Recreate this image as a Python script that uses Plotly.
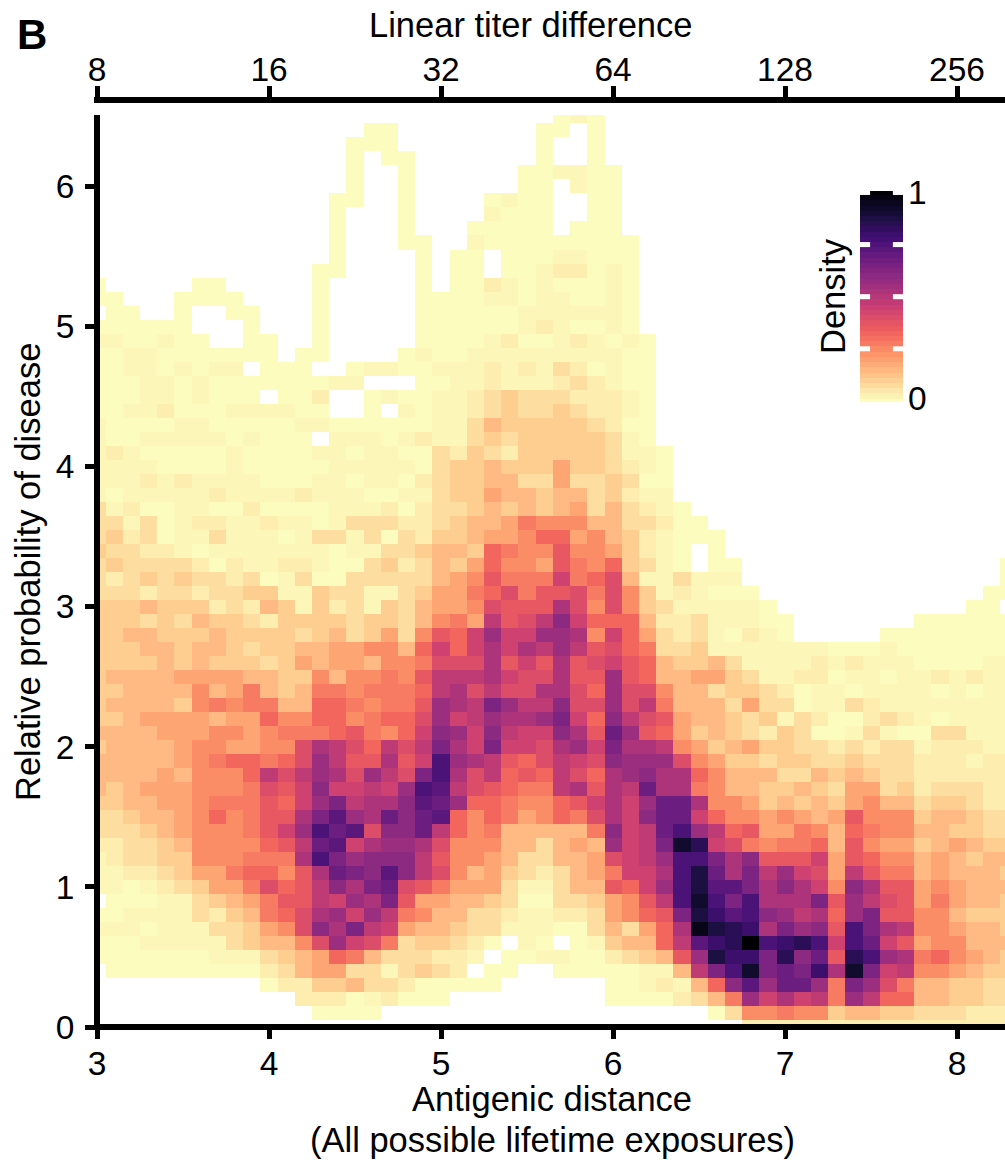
import plotly.graph_objects as go

# Density grid. Top row is y = 6.5, bottom row y = 0.0;
# columns run x = 3.0 ... 8.3 in steps of 0.1. "." is an empty cell.
density_rows = [
".......... .......... .......aAa",
".......... ......aa.. ......aa.a",
".......... .....aaa.. ......a..a",
".......... .....a.aa. ......a..a",
".......... .....a..a. .....aaAAa a",
".......... .....a..a. .....aa.Aa a",
".......... ....aa..a. ...aAaa..a a",
".......... ....a...a. ...Aaaa..a a",
".......... ....a...a. ..aaaaa.aa a",
".......... ....a...aa ..Aaaaaaaa aa",
".......... ....a....a .aa.aaaAAa aa",
".......... ...aa....a .aa.aaAbba Aa",
"a.....aa.. ...a.....a .aabAaAaaa Aa",
"aa...aaaa. ...a.....a aaaAAaAAaa Aa",
".aa..a..aa ...a.....a aaaaaAAAAA Aa",
"aaaaaa...a ...a.....a aaaaaAbAaa Aa",
"AAaaAaa..a a..a.....a aaaAbaaAbA aAa",
"aaAAaaaaaa a.aa....aA aaAAAAAAAA Aaa",
"aaAAaAaAA. aaa..aAAaa AAAbAbAcba Aaa",
"aaaAAaAaaa aaaaAA...a aAAbAAAbcb Aaa",
"aaaAAaAaaa .aab..aAaa AAbcdcccbb bAa",
"aaAAbaaaAA AAaa..a.Aa AAbcdccdcb bAa",
"AaaaaAAaaa aaAAaaaaaa AAcedddddc baa",
"AaaAAAAAaA aaa.AAAaAb AAcdcddddd cAa",
"AbAaaaaaAa aaaAAaAAaa cbdcbddddd cAAa",
"AAAAaaaaAa aaaaAAAAAa cddedddfdd cbAa",
"AAAbAbAAAA aaaAAaAAab cddeeccfcc dcaa",
"AaAAAAAbAA AAbAAAaaAA cddfeedeec dbAA",
"cAbaaAAaab aaaaAAAbab ccdededefc ecbAa",
"ccAcaAbbAA bAAaAcccbb cdeefhggge eccbaa",
"cdbcaAAcAA AaAccAcacb ddeffgiifg edbAaaa",
"dccbbAaAAA AAAAaAAccd eedihggjgg fdbAa.a",
"cdccccbabA AbbAaacdbc edfiggfjhg idcAa.aa.. .......... ...a",
"cbcdcdccbc aAcaaccccc efgjhhhlhi keAAcAAA.. .......... ...a",
"cccbccbccd dAAdccAAcd ffhikhjjkh kgdAbAaaa. .......... ..aa",
"dddedddbcb edAdbcAdce ffgkjjjnkg kgdcAAAAAa .......... .aa.",
"dddcdceddc bddddcddce ghfmjkmpli iiebbcAAAa a.......aa aaaa",
"ddeedddedd ddcdecdfcg jilolloong lifcbcAabA a.....aaaa aaaa",
"dddeedeedc ddeeffggei lilnlnmomj kihccdAAAA AAAaaaAaaa aaaa",
"ddddededdd cdfeffeggh kkknjljnjk ljieddecAA AAbAbAAAaa aaAA",
"deeeeffffe eddgegghgj mmmnlkknjj ojieeffdcA AbbaAAaAAb AbAA",
"ddeeeegefh edehhghhhi mnkmkknnki okkgeecddc baAAaAAAAa AaAA",
"deeeedghgh heeiihghhj onmqommpkk okmheeecfc caAAcbAAAA AAAA",
"ddeffffeff iggiighiik olmonnoqli pmkjfeedcd AcbaabcbAa AAAA",
"eeeefffggf ghhhijhgil polpmllpnj rojifdedcb dcaaAcAaac cAAA",
"deeeefggff ggknmkimkm qnlqllknol qnnmgfdefd dccbcbccAb bbAA",
"eeeeefghii hikomjjnjl tonmjikmlk poookgfddc ddccdcccbb bAbb",
"eeeefegggi mkmonkomkq tnkmijimki nopnnigeee ccededccbb bbbb",
"edefffgggh kjlpllmlot smkjihhmnj nmrnnhgeed dedcffcdbc ccbb",
"ddeeffghhh jiloqmnnps roiihggijl nlorrnggfd ededfgeecd dcbb",
"ccdeefgigh jjnqsonrpr sigihfgihk nlprrliggf gfefjgggde edcc",
"cccdefgggh jlotrskppr migheeeeeh plmrtomijf fhgeihggee ddcc",
"bbccdegggg ijmrslnoon kgggeecefe olmqxvlkhg hhiejgffde fedd",
"Abccddgggh hhntqopppm jggfecceef klmottqnpj jjlfjiggef edee",
"AAbbcdffhi igjnrqpspm kgefdcbcef hllntwrnqm olkfmjhhef eeed",
"AAaAbcdffh kijmpnqrkj hfffcAAcee jilotwssqn pnlgpnjjfg feee",
".aaaAAcdef hjjmlonqjf feedcaaccd fgjmtxtqtn nnqjomkjfh feed",
"aaAAAAcbde hiknolomhg eeccbAAbbc fgijqwustp omnioqjjgg eddd",
"AAAaAAAccd fgkpnqmlfe edccAAAaac ecfinywvun qopjtqnmgg feed",
"aaaAAAAAcd eegkolkhcd dcba.Aa.aA deeimsuvzt uvtltrljfg geee",
"aaaaaaaAAA cdefiheccc bbA.aaAAaa bcdejowuuq vprjvtonhi gfed",
".aaaaaaaaa bceffccAcd cb.aa..aaa aaAAemqtxq rqunxqlmgg fedd",
".......... abbddeccba aaaa...... aaAbAeipso rrohqokhee ddcc",
".......... ..bbbaAbaa a......... aaaabcehol nlmhomiiee ddcc",
".......... ...aaaa... .......... ......acgg hggdeeddcc cbbb",
".......... .......... .......... ........bb bbbbbbbbbb bbbb",
]

# Density each letter stands for.
level_letters = "abcdefghijklmnopqrstuvwxyz"
level_values = {ch: i / 25 for i, ch in enumerate(level_letters)}
level_values.update({"a": 0.003, "A": 0.015, "b": 0.035, "c": 0.07, "d": 0.105,
                     "e": 0.145, "f": 0.19, ".": None})

x_centres = [round(3.0 + 0.1 * i, 1) for i in range(54)]
y_centres = [round(0.1 * i, 1) for i in range(66)]

bottom_tick_vals = [3, 4, 5, 6, 7, 8]
bottom_tick_text = ["3", "4", "5", "6", "7", "8"]
top_tick_text = ["8", "16", "32", "64", "128", "256"]
left_tick_vals = [0, 1, 2, 3, 4, 5, 6]

legend_levels = [0, .025, .05, .075, .1, .125, .15, .175, .2, .225, .25, .275, .3, .325, .35, .375, .4,
                 .425, .45, .475, .5, .525, .55, .575, .6, .625, .65, .675, .7, .725, .75, .775, .8,
                 .825, .85, .875, .9, .925, .95, .975, 1]
legend_ticks = [0.25, 0.5, 0.75, 1]

magma_r = ["#fcfdbf", "#feca8d", "#fd9668", "#f1605d", "#cd4071",
           "#9e2f7f", "#721f81", "#440f76", "#180f3d", "#000004"]
scale = [[i / 9, c] for i, c in enumerate(magma_r)]

FONT = "Liberation Sans"
FS = 33.5
TS = 34.5
W, H = 1005, 1160
L, R, T, B = 97, 0, 100, 133
PW, PH = W - L - R, H - T - B


def px(v):
    return (v - L) / PW


def py(v):
    return (H - B - v) / PH


rows = []
for row in density_rows:
    s = row.replace(" ", "")
    assert len(s) <= 54, row
    s = s.ljust(54, ".")
    rows.append([level_values[ch] for ch in s])
z = rows[::-1]
assert len(z) == 66

fig = go.Figure()
fig.add_trace(go.Heatmap(x=x_centres, y=y_centres, z=z, zmin=0, zmax=1, colorscale=scale,
                         showscale=False, hoverongaps=False, zsmooth=False))
fig.add_trace(go.Scatter(x=bottom_tick_vals, y=[None] * 6, xaxis="x2", yaxis="y",
                         showlegend=False, hoverinfo="skip"))
fig.add_trace(go.Heatmap(x=[0.5], y=legend_levels, z=[[v] for v in legend_levels], zmin=0, zmax=1,
                         colorscale=scale, showscale=False, xaxis="x3", yaxis="y3", hoverinfo="skip"))

x_range = [3, 3 + PW / 172.0]
tickfont = dict(family=FONT, size=FS, color="black")
textfont = dict(family=FONT, size=TS, color="black")
shapes = [
    dict(type="line", xref="paper", yref="paper", x0=0, x1=0, y0=py(1030), y1=py(115),
         line=dict(color="black", width=6)),
    dict(type="line", xref="paper", yref="paper", x0=px(94), x1=1, y0=0, y1=0,
         line=dict(color="black", width=6)),
    dict(type="line", xref="paper", yref="paper", x0=px(94), x1=1, y0=1, y1=1,
         line=dict(color="black", width=6)),
]
for t in legend_ticks:
    for x0, x1 in ((0, 0.235), (0.765, 1)):
        shapes.append(dict(type="line", xref="x3", yref="y3", x0=x0, x1=x1, y0=t, y1=t,
                           line=dict(color="white", width=5)))

annotations = [
    dict(text="<b>B</b>", x=px(32), y=py(35), font=dict(family=FONT, size=42, color="black")),
    dict(text="Linear titer difference", x=px(530), y=py(25), font=textfont),
    dict(text="Antigenic distance", x=px(552), y=py(1099), font=textfont),
    dict(text="(All possible lifetime exposures)", x=px(552), y=py(1140), font=textfont),
    dict(text="Relative probability of disease", x=px(28), y=py(572), textangle=-90, font=textfont),
    dict(text="Density", x=px(833), y=py(296), textangle=-90, font=textfont),
]
for a in annotations:
    a.update(xref="paper", yref="paper", showarrow=False, xanchor="center", yanchor="middle")

fig.update_layout(
    width=W, height=H, margin=dict(l=L, r=R, t=T, b=B, pad=0, autoexpand=False),
    paper_bgcolor="white", plot_bgcolor="white", showlegend=False,
    font=dict(family=FONT, size=FS, color="black"),
    shapes=shapes, annotations=annotations,
    xaxis=dict(range=x_range, tickvals=bottom_tick_vals, ticktext=bottom_tick_text, ticks="outside",
               ticklen=11, tickwidth=5, tickcolor="black", showgrid=False, zeroline=False,
               showline=False, tickfont=tickfont, anchor="y", ticklabelstandoff=-4),
    xaxis2=dict(range=x_range, overlaying="x", side="top", anchor="free", position=1,
                tickvals=bottom_tick_vals, ticktext=top_tick_text, ticks="outside", ticklen=14,
                tickwidth=5, tickcolor="black", showgrid=False, zeroline=False, showline=False,
                tickfont=tickfont, ticklabelstandoff=-8),
    yaxis=dict(range=[0, 912 / 140.1], domain=[0, 912 / PH], tickvals=left_tick_vals, ticks="outside",
               ticklen=11, tickwidth=5, tickcolor="black", showgrid=False, zeroline=False,
               showline=False, tickfont=tickfont, anchor="x", ticklabelstandoff=4),
    xaxis3=dict(domain=[px(860), px(903)], range=[0, 1], visible=False, anchor="y3", fixedrange=True),
    yaxis3=dict(domain=[py(402), py(191)], range=[-0.005, 1.007], anchor="x3", side="right",
                tickvals=[0.015, 1], ticktext=["0", "1"], ticks="", showgrid=False, zeroline=False,
                showline=False, tickfont=tickfont, fixedrange=True, ticklabelstandoff=4),
)

fig.write_html("out.html", config=dict(displayModeBar=False),
               post_script="document.body.style.margin='0';document.documentElement.style.overflow='hidden';")
